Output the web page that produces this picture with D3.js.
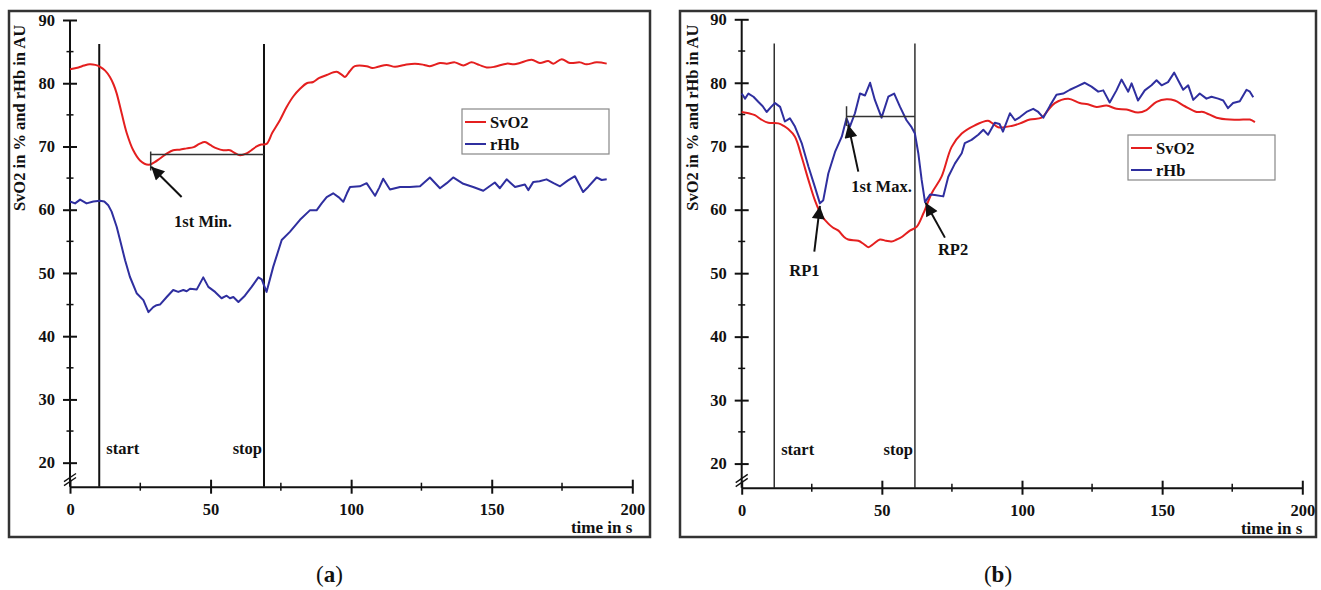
<!DOCTYPE html>
<html>
<head>
<meta charset="utf-8">
<script src="https://cdn.jsdelivr.net/npm/d3@7"></script>
<style>
  body { margin: 0; background: #fff; }
  text { font-family: "Liberation Serif", "Times New Roman", serif; font-weight: bold; fill: #111; }
</style>
</head>
<body>
<svg id="chart" width="1321" height="590"></svg>
<script>
// time in s, value
var svo2A = [[0,82.2],[3,82.5],[5,82.8],[7,83.0],[9,82.9],[10.7,82.6],[12.5,82.0],[14.2,81.0],[15.5,79.8],[16.6,78.4],[18.4,75.2],[20.2,72.1],[22.5,69.4],[24.9,67.8],[27.9,67.1],[30,67.5],[32,68.1],[34.5,68.9],[36.7,69.4],[39,69.5],[41.5,69.7],[44,69.9],[46,70.4],[48,70.7],[50,70.2],[52.2,69.7],[54.5,69.4],[56.9,69.4],[58.5,69.0],[60.5,68.6],[62.8,68.9],[64.5,69.4],[66.4,70.0],[68,70.3],[69.9,70.4],[72,72.2],[74.7,74.2],[77,76.2],[79.4,77.9],[82,79.2],[84.2,80.0],[86.5,80.2],[88.5,80.8],[91.3,81.3],[94.8,81.8],[96.5,81.4],[97.8,81.0],[99.5,81.9],[101.3,82.7],[105.5,82.7],[107.5,82.4],[109.6,82.6],[112.6,82.9],[115.6,82.6],[119,82.9],[122.7,83.1],[126,82.9],[128,82.7],[131.6,83.2],[134,83.1],[136.9,83.3],[139.9,82.8],[142.8,83.3],[145.5,82.9],[148.2,82.5],[151,82.6],[155.3,83.1],[158,83.0],[160,83.2],[164.2,83.7],[167.1,83.2],[170.1,83.5],[171.9,83.1],[174.9,83.8],[177.8,83.2],[181.4,83.3],[183.7,83.0],[187.3,83.3],[190.9,83.1]];
var rhbA = [[0,61.3],[1.8,61.0],[3.6,61.6],[5.9,61.0],[8.3,61.3],[10.7,61.4],[12.2,61.3],[13.6,60.7],[14.8,59.7],[16.6,57.3],[17.8,55.2],[19.6,52.0],[21.3,49.4],[23.7,46.8],[26.1,45.7],[27.9,43.8],[29.6,44.6],[30.8,44.9],[32,45.0],[34.4,46.2],[36.7,47.3],[38.5,47.0],[40.3,47.3],[41.5,47.1],[42.7,47.5],[45.1,47.4],[47.4,49.3],[49.2,47.8],[51.6,47.0],[53.9,46.0],[55.7,46.4],[56.9,46.0],[58.1,46.2],[59.9,45.4],[62.2,46.4],[64.6,47.8],[67,49.3],[68.2,49.0],[69.9,47.0],[72.3,51.0],[75.3,55.2],[78.2,56.5],[81.8,58.4],[85.3,59.9],[87.7,59.9],[89.5,61.0],[91.3,62.0],[93.6,62.6],[95.5,62.0],[97.2,61.25],[98.5,62.6],[99.6,63.6],[103.1,63.7],[105.5,64.2],[107,63.2],[108.5,62.2],[110,63.5],[111.4,64.9],[113.8,63.2],[117.4,63.6],[120.9,63.6],[124.5,63.7],[128,65.1],[131.6,63.4],[134,64.2],[136.3,65.1],[139.9,64.1],[143.4,63.6],[147,63.0],[151.1,64.3],[152.9,63.4],[155.3,64.8],[158.3,63.6],[161.8,64.0],[163,63.1],[164.8,64.4],[167,64.5],[169.5,64.8],[172,64.2],[174.3,63.7],[177,64.6],[179.6,65.3],[182.5,62.8],[184.3,63.6],[187.3,65.1],[189.1,64.7],[190.9,64.8]];

var svo2B = [[0,75.4],[2.5,75.2],[4.7,74.9],[7,74.2],[9.5,73.7],[13.1,73.6],[15,73.2],[16.6,72.7],[19,71.5],[21.4,68.3],[23.8,64.7],[26.1,61.5],[28.5,59.1],[30.9,57.8],[32.5,57.2],[34.5,56.7],[36.3,55.8],[38,55.3],[41.6,55.1],[43.5,54.6],[45.2,54.1],[47,54.6],[49.3,55.3],[51.5,55.1],[53.5,55.0],[55.3,55.3],[57.1,55.7],[60,56.7],[62.4,57.3],[64.8,59.4],[67.8,62.6],[71.3,65.2],[74.9,69.9],[78.5,72.0],[83.2,73.3],[87.9,74.0],[89.5,73.6],[91.5,73.0],[96.3,73.2],[99.3,73.6],[102.8,74.2],[107,74.5],[108.8,75.4],[111.7,76.8],[116.5,77.5],[120.6,76.8],[123.5,76.6],[126.6,76.2],[130.2,76.4],[133.7,75.9],[137.3,75.8],[141.4,75.3],[144.4,75.7],[148,77.0],[151.6,77.4],[154.5,77.2],[158.1,76.3],[162.3,75.4],[164.6,75.4],[169.4,74.5],[174.1,74.2],[178.9,74.2],[181.3,74.2],[183.1,73.8]];
var rhbB = [[0,78.3],[1.2,77.5],[2.4,78.3],[4.2,77.8],[5.9,77.0],[7.5,76.3],[8.9,75.4],[10.5,76.2],[11.9,76.8],[13.7,76.2],[15.4,73.9],[17.2,74.4],[19,73.1],[21.4,70.5],[23.8,66.8],[26.1,63.6],[27.9,61.0],[29.1,61.5],[30.9,65.7],[33.3,69.1],[35.7,71.5],[37.4,74.4],[38.6,73.1],[40.4,75.2],[42.2,78.3],[44,78.0],[45.8,80.0],[47.5,77.3],[49.9,74.5],[52.3,77.8],[54.4,78.3],[56.5,76.2],[58.8,74.1],[60.6,73.0],[61.8,72.0],[63,68.9],[64.2,64.7],[65.4,61.2],[67.2,62.4],[68.9,62.3],[71.9,62.1],[73.7,65.2],[76.1,67.3],[78.5,68.9],[79.6,70.5],[82,71.0],[84.4,71.8],[86.2,72.6],[87.9,71.8],[90.3,73.7],[92,73.5],[93.2,72.3],[95.7,75.2],[97.5,74.1],[99.3,74.6],[101.6,75.4],[104,75.9],[105.8,75.4],[107.6,74.5],[110,76.4],[112.3,78.1],[114.7,78.3],[117.1,78.9],[119.5,79.4],[122.4,80.0],[124.8,79.4],[127.2,78.6],[129,78.8],[131.3,76.9],[133.7,78.8],[135.5,80.5],[137.9,78.6],[139.1,79.9],[141.4,77.2],[143.8,78.8],[146.2,79.6],[148,80.4],[149.8,79.6],[152.1,80.1],[154.3,81.6],[155.7,80.4],[157.5,78.9],[159.3,79.6],[161.1,77.3],[163.4,78.3],[165.8,77.5],[167.6,77.8],[170,77.5],[171.8,77.2],[173.5,76.0],[175.3,76.8],[177.7,77.1],[180.1,78.9],[181.3,78.6],[182.5,77.7]];

var xTicks = [0, 50, 100, 150, 200];
var xMinor = [25, 75, 125, 175];
var yTicks = [20, 30, 40, 50, 60, 70, 80, 90];
var yMinor = [25, 35, 45, 55, 65, 75, 85];
var seriesNames = ["SvO2", "rHb"];
var seriesColors = ["#e41f1f", "#2f2f9f"];
var startStopA = [10.4, 69];
var startStopB = [11.6, 61.8];

var svg = d3.select("#chart");

var defs = svg.append("defs");
defs.append("marker")
	.attr("id", "arrow")
	.attr("viewBox", "0 0 10 10")
	.attr("refX", 10).attr("refY", 5)
	.attr("markerWidth", 8).attr("markerHeight", 6.5)
	.attr("markerUnits", "strokeWidth")
	.attr("orient", "auto")
	.append("path")
	.attr("d", "M0,0 L10,5 L0,10 Z")
	.attr("fill", "#111");

function drawPanel(p) {
	var g = svg.append("g");
	var x = d3.scaleLinear().domain([0, 200]).range(p.xRange);
	var y = d3.scaleLinear().domain([16.2, 90]).range(p.yRange);

	// frame
	g.append("rect")
		.attr("x", p.frame[0]).attr("y", p.frame[1])
		.attr("width", p.frame[2]).attr("height", p.frame[3])
		.attr("fill", "none").attr("stroke", "#333").attr("stroke-width", 2.5);

	// y axis
	var yAxis = g.append("g")
		.attr("transform", "translate(" + x(0) + ",0)")
		.call(d3.axisLeft(y).tickValues(yTicks).tickSize(7).tickPadding(8).tickSizeOuter(0));
	yAxis.select(".domain").attr("d", "M0," + y(90) + "V" + y(16.2)).attr("stroke", "#111").attr("stroke-width", 2);
	yAxis.selectAll(".tick line").attr("x1", -7).attr("x2", 7).attr("stroke", "#111").attr("stroke-width", 2);
	yAxis.selectAll(".tick text").style("font-size", "16.5px").attr("font-family", null);
	yAxis.selectAll(".minor").data(yMinor).enter().append("line")
		.attr("x1", -3.5).attr("x2", 3.5)
		.attr("y1", function(d) { return y(d); }).attr("y2", function(d) { return y(d); })
		.attr("stroke", "#111").attr("stroke-width", 1.5);

	// x axis
	var xAxis = g.append("g")
		.attr("transform", "translate(0," + y(16.2) + ")")
		.call(d3.axisBottom(x).tickValues(xTicks).tickSize(7).tickPadding(10).tickSizeOuter(0));
	xAxis.select(".domain").attr("stroke", "#111").attr("stroke-width", 2);
	xAxis.selectAll(".tick line").attr("y1", -7).attr("y2", 7).attr("stroke", "#111").attr("stroke-width", 2);
	xAxis.selectAll(".tick text").style("font-size", "16.5px").attr("font-family", null);
	xAxis.selectAll(".minor").data(xMinor).enter().append("line")
		.attr("x1", function(d) { return x(d); }).attr("x2", function(d) { return x(d); })
		.attr("y1", -4).attr("y2", 4)
		.attr("stroke", "#111").attr("stroke-width", 1.5);

	// axis break
	[0, 4].forEach(function(off) {
		g.append("line")
			.attr("x1", x(0) - 6).attr("y1", y(17.0) + off)
			.attr("x2", x(0) + 6).attr("y2", y(18.3) + off)
			.attr("stroke", "#111").attr("stroke-width", 1.3);
	});

	g.append("text")
		.attr("x", x(200)).attr("y", y(16.2) + 46)
		.attr("text-anchor", "end")
		.style("font-size", "17px")
		.text("time in s");

	g.append("text")
		.attr("transform", "translate(" + p.yLabelX + "," + y(74.5) + ") rotate(-90)")
		.attr("text-anchor", "middle")
		.attr("dominant-baseline", "central")
		.style("font-size", "16.5px")
		.text("SvO2 in % and rHb in AU");

	// start / stop
	g.selectAll(".ss").data(p.startStop).enter().append("line")
		.attr("x1", function(d) { return x(d); }).attr("x2", function(d) { return x(d); })
		.attr("y1", y(86.2)).attr("y2", y(16.2))
		.attr("stroke", "#111").attr("stroke-width", p.ssWidth);
	g.append("text").attr("x", x(p.startStop[0]) + 7).attr("y", y(21.3))
		.style("font-size", "16.5px").text("start");
	g.append("text").attr("x", x(p.startStop[1]) - 2).attr("y", y(21.3))
		.attr("text-anchor", "end").style("font-size", "16.5px").text("stop");

	// series
	var line = d3.line().x(function(d) { return x(d[0]); }).y(function(d) { return y(d[1]); });
	[p.svo2, p.rhb].forEach(function(s, i) {
		g.append("path")
			.datum(s)
			.attr("fill", "none")
			.attr("stroke", seriesColors[i])
			.attr("stroke-width", 2)
			.attr("stroke-linejoin", "round")
			.attr("d", line.curve(i == 0 ? d3.curveCatmullRom : d3.curveLinear));
	});

	// legend
	var lg = g.append("g");
	lg.append("rect")
		.attr("x", p.legend[0]).attr("y", p.legend[1])
		.attr("width", 147).attr("height", 45)
		.attr("fill", "#fff").attr("stroke", "#888").attr("stroke-width", 1.2);
	seriesNames.forEach(function(name, i) {
		var ly = p.legend[1] + 13 + i * 22;
		lg.append("line")
			.attr("x1", p.legend[0] + 3).attr("x2", p.legend[0] + 24)
			.attr("y1", ly).attr("y2", ly)
			.attr("stroke", seriesColors[i]).attr("stroke-width", 2);
		lg.append("text")
			.attr("x", p.legend[0] + 28).attr("y", ly + 5.5)
			.style("font-size", "16.5px")
			.text(name);
	});

	// bracket
	var b = p.bracket;
	g.append("line")
		.attr("x1", x(b.t0)).attr("x2", x(b.t1))
		.attr("y1", y(b.v)).attr("y2", y(b.v))
		.attr("stroke", "#333").attr("stroke-width", 1.5);
	g.append("line")
		.attr("x1", x(b.t0)).attr("x2", x(b.t0))
		.attr("y1", y(b.tickTop)).attr("y2", y(b.tickBottom))
		.attr("stroke", "#333").attr("stroke-width", 1.5);

	// arrows and labels
	p.arrows.forEach(function(a) {
		g.append("line")
			.attr("x1", x(a.from[0])).attr("y1", y(a.from[1]))
			.attr("x2", x(a.to[0])).attr("y2", y(a.to[1]))
			.attr("stroke", "#111").attr("stroke-width", 2)
			.attr("marker-end", "url(#arrow)");
		g.append("text")
			.attr("x", x(a.text[0])).attr("y", y(a.text[1]))
			.attr("text-anchor", "middle")
			.style("font-size", "16.5px")
			.text(a.label);
	});

	var cap = g.append("text")
		.attr("x", p.frame[0] + p.frame[2] / 2).attr("y", 582)
		.attr("text-anchor", "middle")
		.style("font-size", "23px").style("font-weight", "normal");
	cap.append("tspan").text("(");
	cap.append("tspan").style("font-weight", "bold").text(p.caption);
	cap.append("tspan").text(")");
}

drawPanel({
	xRange: [70, 632.3], yRange: [486.7, 20],
	frame: [9, 11, 641, 526], yLabelX: 19, ssWidth: 2,
	startStop: startStopA, svo2: svo2A, rhb: rhbA,
	legend: [462, 109],
	bracket: { t0: 28.7, t1: 69, v: 68.75, tickTop: 69.2, tickBottom: 66.2 },
	arrows: [{ from: [39.7, 62.0], to: [28.9, 66.8], text: [47.3, 57.3], label: "1st Min." }],
	caption: "a"
});

drawPanel({
	xRange: [741.7, 1302.3], yRange: [487.7, 19.3],
	frame: [680, 11, 636, 526], yLabelX: 692, ssWidth: 1.3,
	startStop: startStopB, svo2: svo2B, rhb: rhbB,
	legend: [1128, 135],
	bracket: { t0: 37.4, t1: 61.8, v: 74.7, tickTop: 76.3, tickBottom: 73.2 },
	arrows: [
		{ from: [41.6, 66.0], to: [38.0, 73.4], text: [49.9, 62.8], label: "1st Max." },
		{ from: [25.9, 53.4], to: [27.9, 60.6], text: [22.4, 49.5], label: "RP1" },
		{ from: [72.5, 55.6], to: [65.6, 61.1], text: [75.4, 52.8], label: "RP2" }
	],
	caption: "b"
});
</script>
</body>
</html>
